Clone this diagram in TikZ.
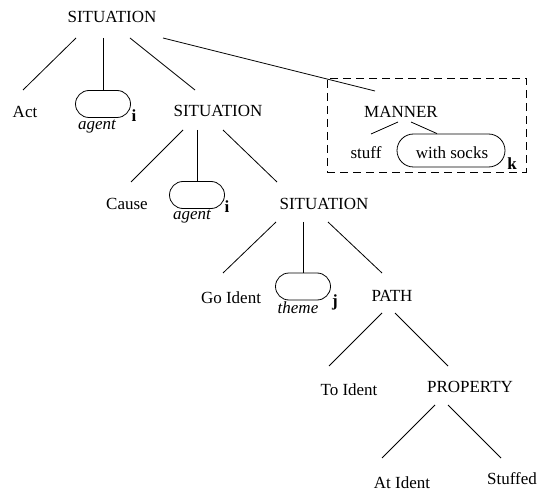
\documentclass[tikz,border=0pt]{standalone}
\usepackage{fontspec}
\setmainfont{Liberation Serif}
\usetikzlibrary{calc}
\begin{document}
\begin{tikzpicture}[x=1pt, y=-1pt, line width=0.8pt,
  lbl/.style={anchor=base, inner sep=0pt, font=\fontsize{17}{20}\selectfont},
  role/.style={lbl, font=\fontsize{17}{20}\selectfont\itshape},
  idx/.style={lbl, font=\fontsize{17}{20}\selectfont\bfseries},
  slot/.style={draw, rounded corners=13.5pt, minimum width=55pt, minimum height=27pt, inner sep=0pt}]
\useasboundingbox (0,0) rectangle (540,494);

% constituent labels
\node[lbl] (s1) at (112,23) {SITUATION};
\node[lbl] (act) at (25,118) {Act};
\node[lbl] (s2) at (218,117) {SITUATION};
\node[lbl] (cause) at (127,210) {Cause};
\node[lbl] (s3) at (324,210) {SITUATION};
\node[lbl] (go) at (231,303) {Go Ident};
\node[lbl] (path) at (392,301) {PATH};
\node[lbl] (to) at (349,395) {To Ident};
\node[lbl] (prop) at (470,392) {PROPERTY};
\node[lbl] (at) at (402,488) {At Ident};
\node[lbl] (stuffed) at (512,484) {Stuffed};
\node[lbl] (manner) at (401,118) {MANNER};
\node[lbl] (stuff) at (366,159) {stuff};

% argument slots with role and index
\node[slot] (b1) at (103,104) {};
\node[role] (ag1) at (97,130) {agent};
\node[idx] (i1) at (134,122) {i};
\node[slot] (b2) at (197,195) {};
\node[role] (ag2) at (192,220) {agent};
\node[idx] (i2) at (227,213) {i};
\node[slot] (b3) at (303,286.5) {};
\node[role] (th) at (298,313) {theme};
\node[idx] (j) at (335,306) {j};
\node[slot, minimum width=108pt, minimum height=33pt, rounded corners=16.5pt] (sk) at (451,150.5) {};
\node[lbl] (sktext) at (452,159) {with socks};
\node[idx] (k) at (512,170) {k};

% dashed frame around the manner adjunct
\node[draw, dashed, dash pattern=on 8pt off 5pt, line width=0.8pt, minimum width=199pt, minimum height=94pt, inner sep=0pt] (frame) at (426.5,125) {};

% tree edges
\draw ($(s1.base)+(-36,15)$) -- ($(act.base)+(-2,-28)$);
\draw ($(s1.base)+(-9,15)$) -- (b1.north);
\draw ($(s1.base)+(18,15)$) -- ($(s2.base)+(-23,-27)$);
\draw ($(s1.base)+(51,15)$) -- ($(manner.base)+(-26,-27)$);
\draw ($(s2.base)+(-35,13)$) -- ($(cause.base)+(4,-28)$);
\draw ($(s2.base)+(-21,13)$) -- (b2.north);
\draw ($(s2.base)+(5,13)$) -- ($(s3.base)+(-47,-28)$);
\draw ($(s3.base)+(-48,12)$) -- ($(go.base)+(-8,-30)$);
\draw ($(s3.base)+(-21,12)$) -- (b3.north);
\draw ($(s3.base)+(4,12)$) -- ($(path.base)+(-10,-28)$);
\draw ($(path.base)+(-10,12)$) -- ($(to.base)+(-20,-29)$);
\draw ($(path.base)+(3,12)$) -- ($(prop.base)+(-22,-26)$);
\draw ($(prop.base)+(-35,13)$) -- ($(at.base)+(-20,-30)$);
\draw ($(prop.base)+(-22,13)$) -- ($(stuffed.base)+(-11,-26)$);
\draw ($(manner.base)+(-3,4)$) -- ($(stuff.base)+(5,-25)$);
\draw ($(manner.base)+(10,4)$) -- ($(sk.north)+(-14,0)$);
\end{tikzpicture}
\end{document}
